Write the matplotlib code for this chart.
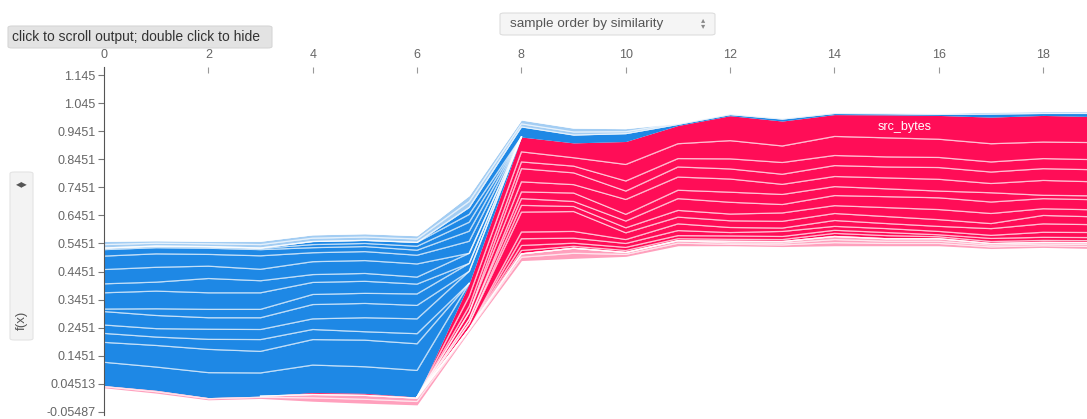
import matplotlib
matplotlib.use("Agg")
import matplotlib.pyplot as plt
from matplotlib.patches import FancyBboxPatch
import numpy as np

plt.rcParams['font.family'] = ['Liberation Sans', 'DejaVu Sans']

# expected value of the model
base_value = 0.54513
samples = list(range(20))

# shap values per feature, one entry per sample (ordered by similarity)
src_bytes = [-0.083, -0.083, -0.089, -0.083, -0.098, -0.095, -0.095, 0.046, 0.053, 0.053,
             0.082, 0.065, 0.089, 0.089, 0.078, 0.082, 0.085, 0.095, 0.095, 0.093]
dst_bytes = [-0.071, -0.077, -0.083, -0.077, -0.091, -0.095, -0.095, 0.036, 0.036, 0.030,
             0.059, 0.053, 0.065, 0.059, 0.068, 0.068, 0.065, 0.065, 0.059, 0.061]
count = [-0.032, -0.030, -0.036, -0.042, -0.036, -0.030, -0.036, 0.021, 0.024, 0.024,
         0.036, 0.030, 0.036, 0.042, 0.036, 0.036, 0.036, 0.036, 0.036, 0.036]
dst_host_srv_count = [-0.030, -0.030, -0.036, -0.036, -0.038, -0.050, -0.053, -0.043, 0.047, 0.042,
                      0.030, 0.036, 0.036, 0.036, 0.039, 0.039, 0.042, 0.041, 0.042, 0.043]
same_srv_rate = [-0.048, -0.047, -0.041, -0.042, -0.051, -0.051, -0.048, 0.025, 0.036, 0.030,
                 0.053, 0.047, 0.047, 0.036, 0.036, 0.039, 0.042, 0.033, 0.053, 0.050]
dst_host_same_srv_rate = [-0.009, -0.024, -0.030, -0.030, -0.036, -0.036, -0.041, -0.028, 0.024, 0.030,
                          0.024, 0.030, 0.036, 0.036, 0.032, 0.028, 0.024, 0.033, 0.012, 0.014]
flag = [-0.058, -0.063, -0.059, -0.059, -0.043, -0.043, -0.035, 0.014, 0.024, 0.018,
        0.024, 0.042, 0.042, 0.030, 0.036, 0.039, 0.042, 0.041, 0.036, 0.036]
service = [-0.032, -0.032, -0.051, -0.043, -0.028, -0.028, -0.025, -0.036, 0.024, 0.018,
           0.018, 0.024, 0.024, 0.030, 0.028, 0.032, 0.036, 0.036, 0.024, 0.025]
dst_host_count = [-0.051, -0.053, -0.044, -0.041, -0.046, -0.046, -0.047, 0.021, 0.071, 0.071,
                  0.024, 0.024, 0.024, 0.024, 0.025, 0.025, 0.024, 0.018, 0.030, 0.028]
logged_in = [-0.048, -0.048, -0.042, -0.048, -0.032, -0.032, -0.031, -0.043, 0.024, 0.024,
             0.014, 0.024, 0.018, 0.012, 0.021, 0.018, 0.018, 0.024, 0.030, 0.028]
dst_host_diff_srv_rate = [-0.023, -0.022, -0.022, -0.022, -0.018, -0.018, -0.018, -0.036, 0.024, 0.018,
                          0.014, 0.018, 0.012, 0.018, 0.014, 0.014, 0.012, 0.011, 0.018, 0.018]
protocol_type = [-0.004, -0.004, -0.004, -0.004, -0.011, -0.011, -0.014, -0.032, 0.018, 0.011,
                 0.011, 0.011, 0.012, 0.011, 0.011, 0.011, 0.007, 0.011, 0.011, 0.011]
dst_host_same_src_port_rate = [-0.002, -0.002, -0.002, -0.002, -0.011, -0.011, -0.014, -0.028, 0.012, 0.007,
                               0.007, 0.007, 0.007, 0.007, 0.011, 0.011, 0.007, 0.007, 0.007, 0.007]
diff_srv_rate = [0.0, 0.0, 0.0, 0.0, 0.007, 0.007, 0.004, -0.025, -0.036, -0.028,
                 -0.028, -0.004, -0.004, -0.007, -0.004, -0.004, -0.004, -0.011, -0.007, -0.011]
dst_host_srv_diff_host_rate = [-0.012, -0.010, -0.010, -0.012, -0.012, -0.012, -0.012, -0.021, -0.011, -0.011,
                               -0.007, -0.004, -0.004, -0.004, -0.004, -0.004, -0.004, -0.007, -0.007, -0.007]
srv_count = [-0.012, -0.009, -0.009, -0.012, -0.012, -0.012, -0.012, -0.021, -0.014, -0.014,
             -0.011, 0.0, 0.006, 0.006, 0.011, 0.009, 0.009, 0.006, 0.006, 0.007]
dst_host_serror_rate = [0.004, 0.005, 0.004, 0.004, 0.012, 0.014, 0.012, 0.004, 0.012, 0.018,
                        0.007, 0.009, 0.005, 0.006, 0.011, 0.008, 0.008, 0.006, 0.006, 0.007]
hot = [0.004, 0.005, 0.004, 0.004, 0.012, 0.014, 0.012, 0.004, 0.012, 0.018,
       0.007, 0.009, 0.005, 0.006, 0.011, 0.008, 0.008, 0.006, 0.006, 0.007]

shap_rows = [src_bytes, dst_bytes, count, dst_host_srv_count, same_srv_rate,
             dst_host_same_srv_rate, flag, service, dst_host_count, logged_in,
             dst_host_diff_srv_rate, protocol_type, dst_host_same_src_port_rate,
             diff_srv_rate, dst_host_srv_diff_host_rate, srv_count,
             dst_host_serror_rate, hot]
n_strong = 14  # the rest are drawn faded

RED, BLUE = '#ff0d57', '#1e88e5'
LIGHT_RED, LIGHT_BLUE = '#ffa0bd', '#a3cdf3'

shap_vals = np.array(shap_rows)
x = np.array(samples)
out_value = base_value + shap_vals.sum(axis=0)

# stack positive effects below f(x), negative effects above it
pos_hi = np.zeros_like(shap_vals)
pos_lo = np.zeros_like(shap_vals)
neg_lo = np.zeros_like(shap_vals)
neg_hi = np.zeros_like(shap_vals)
cur = out_value.copy()
for j in range(len(shap_rows)):
    pos_hi[j] = cur
    cur = cur - np.clip(shap_vals[j], 0, None)
    pos_lo[j] = cur
cur = out_value.copy()
for j in range(len(shap_rows)):
    neg_lo[j] = cur
    cur = cur + np.clip(-shap_vals[j], 0, None)
    neg_hi[j] = cur


def hide_on_output(line):
    # don't draw separators that just sit on the f(x) boundary
    on = np.isclose(line, out_value)
    keep = ~on | np.r_[False, ~on[:-1]] | np.r_[~on[1:], False]
    return np.where(keep, line, np.nan)


fig = plt.figure(figsize=(10.87, 4.19), dpi=100)
ax = fig.add_axes([104 / 1087, 4 / 419, 983 / 1087, 348 / 419])

for j in range(len(shap_rows)):
    rc = RED if j < n_strong else LIGHT_RED
    bc = BLUE if j < n_strong else LIGHT_BLUE
    ax.fill_between(x, pos_lo[j], pos_hi[j], color=rc, lw=0)
    ax.fill_between(x, neg_lo[j], neg_hi[j], color=bc, lw=0)
for j in range(len(shap_rows) - 1):
    ax.plot(x, hide_on_output(pos_lo[j]), color='white', lw=0.9, alpha=0.72)
    ax.plot(x, hide_on_output(neg_hi[j]), color='white', lw=0.9, alpha=0.72)

# feature label inside its band
lx = 15.35
ly = np.interp(lx, x, (pos_hi[0] + pos_lo[0]) / 2)
ax.text(lx, ly, 'src_bytes', color='white', fontsize=9, ha='center', va='center')

ax.set_xlim(0, 18.84)
ax.set_ylim(-0.067, 1.175)
yt = base_value + 0.1 * np.arange(-6, 7)
ax.set_yticks(yt)
ax.set_yticklabels(['%.4g' % v for v in yt])
ax.set_xticks(range(0, 19, 2))
ax.xaxis.tick_top()
ax.tick_params(axis='x', direction='in', length=4, pad=4, color='#999999',
               labelcolor='#666666', labelsize=9)
ax.tick_params(axis='y', direction='out', length=4, pad=2, color='#777777',
               labelcolor='#666666', labelsize=9)
for s in ['top', 'right', 'bottom']:
    ax.spines[s].set_visible(False)
ax.spines['left'].set_color('#555555')
ax.spines['left'].set_linewidth(0.8)


def fig_box(x0, y0, w, h, face, edge):
    # pixel box measured from the top-left corner
    fig.patches.append(FancyBboxPatch((x0 / 1087, 1 - (y0 + h) / 419), w / 1087, h / 419,
                                      boxstyle='round,pad=0,rounding_size=0.004',
                                      transform=fig.transFigure, facecolor=face,
                                      edgecolor=edge, lw=0.8, zorder=5))


# dropdown
fig_box(500, 13, 215, 22, '#f5f5f5', '#dddddd')
fig.text(510 / 1087, 1 - 24 / 419, 'sample order by similarity', color='#555555',
         fontsize=9.7, ha='left', va='center', zorder=6)
fig.text(703 / 1087, 1 - 21 / 419, '▴', color='#888888', fontsize=6, ha='center', va='center', zorder=6)
fig.text(703 / 1087, 1 - 27 / 419, '▾', color='#888888', fontsize=6, ha='center', va='center', zorder=6)

# tooltip
fig_box(8, 26, 264, 22, '#e3e3e3', '#d6d6d6')
fig.text(12 / 1087, 1 - 37 / 419, 'click to scroll output; double click to hide', color='#333333',
         fontsize=10, ha='left', va='center', zorder=6)

# y-axis label box
fig_box(10, 172, 23, 168, '#f3f3f3', '#e4e4e4')
fig.text(21.5 / 1087, 1 - 184 / 419, '◂▸', color='#555555', fontsize=8.5, ha='center', va='center', zorder=6)
fig.text(21.5 / 1087, 1 - 320 / 419, 'f(x)', color='#555555', fontsize=9.5, rotation=90,
         ha='center', va='center', zorder=6)

fig.savefig('out.png', dpi=100)
